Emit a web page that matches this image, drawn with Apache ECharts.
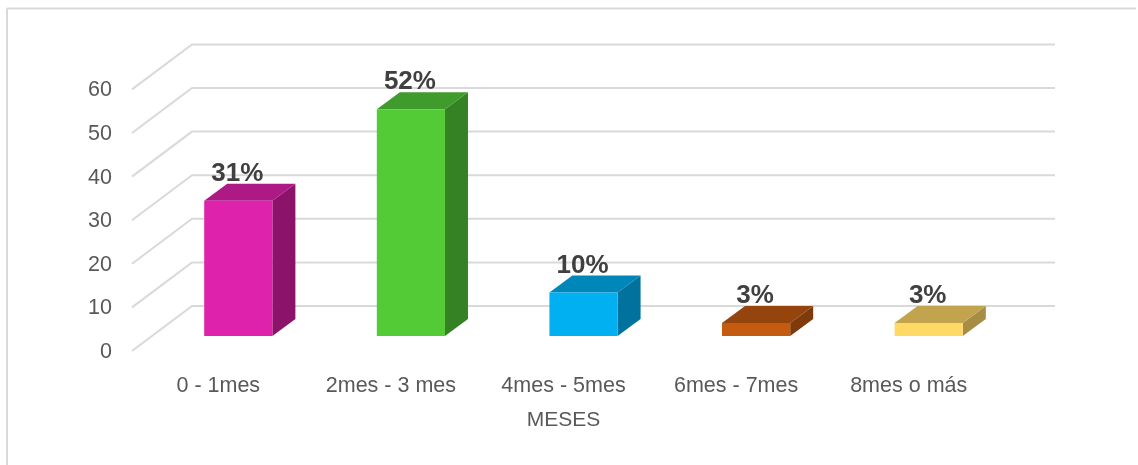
<!DOCTYPE html>
<html>
<head>
<meta charset="utf-8">
<script src="https://cdn.jsdelivr.net/npm/echarts@6/dist/echarts.min.js"></script>
<style>html,body{margin:0;padding:0;background:#fff}#c{width:1138px;height:465px}</style>
</head>
<body>
<div id="c"></div>
<script>
const categories = ['0 - 1mes', '2mes - 3 mes', '4mes - 5mes', '6mes - 7mes', '8mes o más'];
const values = [31, 52, 10, 3, 3];
const valueLabels = ['31%', '52%', '10%', '3%', '3%'];
const yTicks = [0, 10, 20, 30, 40, 50, 60];
const frontColors = ['#DF22AB', '#53CB37', '#00B0F0', '#C55A11', '#FFD966'];
const topColors = ['#AD1A85', '#3F9B2B', '#0087B9', '#94440C', '#C2A44F'];
const sideColors = ['#8B1369', '#358224', '#00729D', '#7E3A0A', '#A78D44'];

const FONT = '"Liberation Sans", Arial, sans-serif';
const DX = 23, DY = -17;          // bar depth
const FX = -20, FY = 15;          // bar plane -> front plane
const BX = 40, BY = -30;          // bar plane -> back plane

const chart = echarts.init(document.getElementById('c'));
chart.setOption({
  animation: false,
  backgroundColor: '#ffffff',
  grid: { left: 152, right: 123, top: 74.4, bottom: 129 },
  xAxis: {
    type: 'category',
    data: categories,
    axisLine: { show: false },
    axisTick: { show: false },
    axisLabel: { fontFamily: FONT, fontSize: 21.5, color: '#595959', margin: 39, padding: [0, 40, 0, 0] },
    name: 'MESES',
    nameLocation: 'middle',
    nameGap: 74,
    nameTextStyle: { fontFamily: FONT, fontSize: 21, color: '#595959', padding: [0, 40, 0, 0] }
  },
  yAxis: {
    type: 'value',
    min: 0, max: 60, interval: 10,
    axisLine: { show: false },
    axisTick: { show: false },
    splitLine: { show: false },
    axisLabel: { show: false }
  },
  graphic: [
    { type: 'line', shape: { x1: 7, y1: 8.5, x2: 1136, y2: 8.5 }, style: { stroke: '#d9d9d9', lineWidth: 2 } },
    { type: 'line', shape: { x1: 7, y1: 8.5, x2: 7, y2: 465 }, style: { stroke: '#d9d9d9', lineWidth: 2 } }
  ],
  series: [
    {
      type: 'custom',
      z: 1,
      data: yTicks.map(v => [0, v]),
      renderItem: function (params, api) {
        const cs = params.coordSys;
        const y = api.coord([0, api.value(1)])[1];
        const left = cs.x, right = cs.x + cs.width;
        return {
          type: 'group',
          children: [
            { type: 'polyline', shape: { points: [[left + FX, y + FY], [left + BX, y + BY], [right + BX, y + BY]] },
              style: { stroke: '#d9d9d9', lineWidth: 2, fill: null } },
            { type: 'text', style: { text: String(api.value(1)), x: left + FX - 20, y: y + FY + 1,
              align: 'right', verticalAlign: 'middle', font: '21.5px ' + FONT, fill: '#595959' } }
          ]
        };
      }
    },
    {
      type: 'custom',
      z: 2,
      data: values.map((v, i) => [i, v]),
      renderItem: function (params, api) {
        const i = api.value(0);
        const top = api.coord([i, api.value(1)]);
        const base = api.coord([i, 0]);
        const w = api.size([1, 0])[0] * 0.395;
        const x0 = top[0] - w / 2, x1 = top[0] + w / 2;
        const yt = top[1], yb = base[1];
        return {
          type: 'group',
          children: [
            { type: 'polygon', shape: { points: [[x1, yb], [x1 + DX, yb + DY], [x1 + DX, yt + DY], [x1, yt]] },
              style: { fill: sideColors[i] } },
            { type: 'polygon', shape: { points: [[x0, yt], [x0 + DX, yt + DY], [x1 + DX, yt + DY], [x1, yt]] },
              style: { fill: topColors[i] } },
            { type: 'rect', shape: { x: x0, y: yt, width: w, height: yb - yt },
              style: { fill: frontColors[i] } },
            { type: 'text', style: { text: valueLabels[i], x: top[0] - 1, y: yt + DY + 3,
              align: 'center', verticalAlign: 'bottom', font: 'bold 26px ' + FONT, fill: '#404040' } }
          ]
        };
      }
    }
  ]
});
</script>
</body>
</html>
